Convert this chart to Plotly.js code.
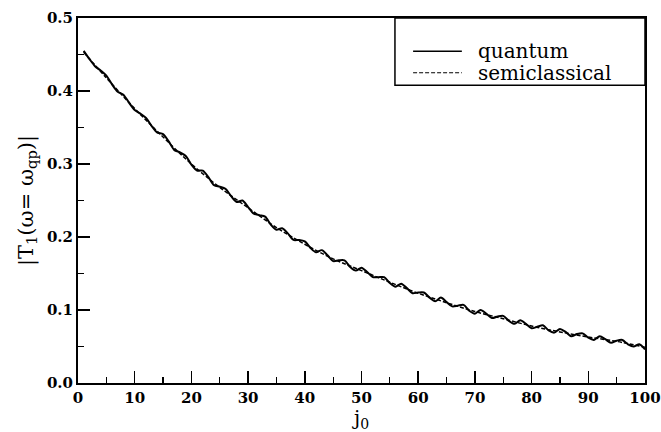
<!DOCTYPE html>
<html>
<head>
<meta charset="utf-8">
<script src="https://cdn.plot.ly/plotly-3.0.1.min.js"></script>
<style>html,body{margin:0;padding:0;background:#fff;}#chart{width:661px;height:432px;}</style>
</head>
<body>
<div id="chart"></div>
<script>
// j0 values for the quantum curve
const jQuantum = [1,2,3,4,5,6,7,8,9,10,11,12,13,14,15,16,17,18,19,20,21,22,23,24,25,26,27,28,29,30,31,32,33,34,35,36,37,38,39,40,41,42,43,44,45,46,47,48,49,50,51,52,53,54,55,56,57,58,59,60,61,62,63,64,65,66,67,68,69,70,71,72,73,74,75,76,77,78,79,80,81,82,83,84,85,86,87,88,89,90,91,92,93,94,95,96,97,98,99,100];
const quantum = [0.455,0.444,0.434,0.428,0.421,0.409,0.399,0.395,0.384,0.374,
  0.369,0.363,0.352,0.343,0.341,0.331,0.319,0.316,0.311,0.299,
  0.291,0.291,0.282,0.271,0.269,0.266,0.256,0.248,0.250,0.241,
  0.232,0.230,0.228,0.217,0.210,0.212,0.205,0.196,0.196,0.194,
  0.185,0.179,0.182,0.175,0.167,0.168,0.168,0.159,0.154,0.158,
  0.152,0.145,0.145,0.145,0.137,0.132,0.136,0.130,0.123,0.124,
  0.124,0.117,0.112,0.117,0.111,0.105,0.106,0.107,0.099,0.095,
  0.100,0.095,0.089,0.091,0.092,0.085,0.081,0.086,0.081,0.075,
  0.077,0.079,0.072,0.069,0.074,0.070,0.064,0.067,0.068,0.062,
  0.059,0.064,0.060,0.055,0.058,0.059,0.053,0.050,0.053,0.046];
// j0 values for the semiclassical curve
const jSemi = [1,5,10,15,20,25,30,35,40,45,50,55,60,65,70,75,80,85,90,95,100];
const semiclassical = [0.453,0.418,0.376,0.337,0.300,0.268,0.240,0.213,0.190,0.170,0.154,0.138,0.123,0.110,0.098,0.088,0.078,0.070,0.063,0.057,0.049];
const xTicks = [0,10,20,30,40,50,60,70,80,90,100];
const yTicks = [0.0,0.1,0.2,0.3,0.4,0.5];
const seriesNames = ['quantum','semiclassical'];

const FONT = 'DejaVu Serif, Liberation Serif, serif';

const traces = [
  {x: jQuantum, y: quantum, name: seriesNames[0], mode: 'lines',
   line: {color: '#000', width: 2, shape: 'spline', smoothing: 0.8}},
  {x: jSemi, y: semiclassical, name: seriesNames[1], mode: 'lines',
   line: {color: '#000', width: 1.5, dash: '4px,2px', shape: 'spline'}}
];

// legend drawn by hand (paper coordinates)
const legX0 = 0.591, legX1 = 0.677, legTextX = 0.702;
const legY = [0.909, 0.850];

const layout = {
  width: 661, height: 432,
  margin: {l: 78, r: 16, t: 18, b: 49},
  paper_bgcolor: '#fff', plot_bgcolor: '#fff',
  font: {family: FONT, color: '#000', size: 15},
  showlegend: false,
  xaxis: {range: [0, 100], tickvals: xTicks, ticktext: xTicks.map(String),
          ticks: 'inside', ticklen: 12, tickwidth: 1.5, tickcolor: '#000',
          minor: {dtick: 5, tick0: 0, ticks: 'inside', ticklen: 6, tickwidth: 1.2, tickcolor: '#000', showgrid: false},
          showline: true, linewidth: 2, linecolor: '#000', mirror: true,
          showgrid: false, zeroline: false,
          tickfont: {family: FONT, size: 15, weight: 'bold'},
          title: {text: 'j<sub>0</sub>', font: {family: FONT, size: 20}, standoff: 2}},
  yaxis: {range: [0, 0.5], tickvals: yTicks, ticktext: yTicks.map(v => v.toFixed(1)),
          ticks: 'inside', ticklen: 12, tickwidth: 1.5, tickcolor: '#000',
          minor: {dtick: 0.05, tick0: 0, ticks: 'inside', ticklen: 6, tickwidth: 1.2, tickcolor: '#000', showgrid: false},
          showline: true, linewidth: 2, linecolor: '#000', mirror: true,
          showgrid: false, zeroline: false,
          tickfont: {family: FONT, size: 15, weight: 'bold'},
          title: {text: '|T<sub>1</sub>(ω= ω<sub>qp</sub>)|', font: {family: FONT, size: 21}, standoff: 8}},
  shapes: [
    {type: 'rect', xref: 'paper', yref: 'paper', x0: 0.559, x1: 1.0, y0: 0.816, y1: 1.0,
     line: {color: '#000', width: 1.5}, fillcolor: 'rgba(0,0,0,0)', layer: 'above'},
    {type: 'line', xref: 'paper', yref: 'paper', x0: legX0, x1: legX1, y0: legY[0], y1: legY[0],
     line: {color: '#000', width: 1.5}},
    {type: 'line', xref: 'paper', yref: 'paper', x0: legX0, x1: legX1, y0: legY[1], y1: legY[1],
     line: {color: '#000', width: 1.2, dash: '4px,2px'}}
  ],
  annotations: [
    {xref: 'paper', yref: 'paper', x: legTextX, y: legY[0], xanchor: 'left', yanchor: 'middle',
     text: seriesNames[0], showarrow: false, font: {family: FONT, size: 20, color: '#000'}},
    {xref: 'paper', yref: 'paper', x: legTextX, y: legY[1], xanchor: 'left', yanchor: 'middle',
     text: seriesNames[1], showarrow: false, font: {family: FONT, size: 20, color: '#000'}}
  ]
};

Plotly.newPlot('chart', traces, layout, {displayModeBar: false, staticPlot: true});
</script>
</body>
</html>
